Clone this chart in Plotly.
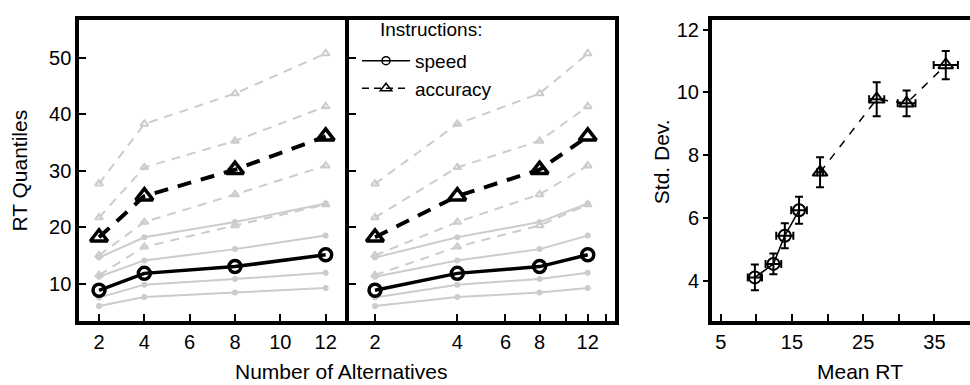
import plotly.graph_objects as go

# ---------------- data ----------------
n_alt = [2, 4, 8, 12]

speed_q10 = [6.0, 7.6, 8.4, 9.2]
speed_q30 = [7.5, 9.8, 10.8, 11.9]
speed_q50 = [8.8, 11.8, 13.0, 15.1]
speed_q70 = [11.2, 14.1, 16.1, 18.5]
speed_q90 = [14.6, 18.2, 20.9, 24.2]

acc_q10 = [11.5, 16.5, 20.3, 24.0]
acc_q30 = [15.0, 20.9, 25.8, 30.9]
acc_q50 = [18.2, 25.5, 30.2, 36.1]
acc_q70 = [21.7, 30.6, 35.3, 41.4]
acc_q90 = [27.7, 38.3, 43.7, 50.8]

speed_mean = [9.8, 12.4, 14.0, 16.0]
speed_sd = [4.1, 4.53, 5.43, 6.24]
speed_mean_err = [1.0, 1.1, 1.2, 1.1]
speed_sd_err = [0.41, 0.33, 0.40, 0.43]

acc_mean = [18.95, 26.9, 31.1, 36.6]
acc_sd = [7.45, 9.78, 9.65, 10.87]
acc_mean_err = [0.4, 1.06, 1.25, 1.7]
acc_sd_err = [0.48, 0.54, 0.41, 0.45]

x_ticks_lin = [2, 4, 6, 8, 10, 12]
x_ticks_log = [2, 4, 6, 8, 10, 12, 14]
x_ticktext_log = ["2", "4", "6", "8", "", "12", ""]
y_ticks_q = [10, 20, 30, 40, 50]
x_ticks_mean = [5, 10, 15, 20, 25, 30, 35, 40]
x_ticktext_mean = ["5", "", "15", "", "25", "", "35", ""]
y_ticks_sd = [4, 6, 8, 10, 12]

GREY = "#cccccc"
FONT = "Liberation Sans, Arial, sans-serif"

fig = go.Figure()

grey_speed = [speed_q10, speed_q30, speed_q70, speed_q90]
grey_acc = [acc_q10, acc_q30, acc_q70, acc_q90]

for xa, ya in [("x", "y"), ("x2", "y2")]:
    for q in grey_acc:
        fig.add_trace(go.Scatter(
            x=n_alt, y=q, xaxis=xa, yaxis=ya, mode="lines+markers",
            line=dict(color=GREY, width=2, dash="9px,7px"),
            marker=dict(symbol="triangle-up-open", size=7, color=GREY, line=dict(width=2, color=GREY)),
            showlegend=False, hoverinfo="skip"))
    for q in grey_speed:
        fig.add_trace(go.Scatter(
            x=n_alt, y=q, xaxis=xa, yaxis=ya, mode="lines+markers",
            line=dict(color=GREY, width=2),
            marker=dict(symbol="circle", size=6, color=GREY),
            showlegend=False, hoverinfo="skip"))
    fig.add_trace(go.Scatter(
        x=n_alt, y=acc_q50, xaxis=xa, yaxis=ya, mode="lines+markers",
        line=dict(color="black", width=4, dash="14px,10px"),
        marker=dict(symbol="triangle-up-open", size=15, color="black", line=dict(width=3.5, color="black")),
        showlegend=False, hoverinfo="skip"))
    fig.add_trace(go.Scatter(
        x=n_alt, y=speed_q50, xaxis=xa, yaxis=ya, mode="lines+markers",
        line=dict(color="black", width=3.5),
        marker=dict(symbol="circle-open", size=12, color="black", line=dict(width=3.5, color="black")),
        showlegend=False, hoverinfo="skip"))

# legend entries
fig.add_trace(go.Scatter(
    x=[None], y=[None], xaxis="x2", yaxis="y2", mode="lines+markers", name="speed",
    line=dict(color="black", width=1.5),
    marker=dict(symbol="circle-open", size=8, color="black", line=dict(width=1.5, color="black"))))
fig.add_trace(go.Scatter(
    x=[None], y=[None], xaxis="x2", yaxis="y2", mode="lines+markers", name="accuracy",
    line=dict(color="black", width=1.5, dash="7px,5px"),
    marker=dict(symbol="triangle-up-open", size=10, color="black", line=dict(width=1.5, color="black"))))

# right panel
fig.add_trace(go.Scatter(
    x=speed_mean, y=speed_sd, xaxis="x3", yaxis="y3", mode="lines+markers",
    line=dict(color="black", width=1.5),
    marker=dict(symbol="circle-open", size=12, color="black", line=dict(width=2, color="black")),
    error_y=dict(type="data", array=speed_sd_err, color="black", thickness=2, width=4),
    error_x=dict(type="data", array=speed_mean_err, color="black", thickness=2, width=4),
    showlegend=False, hoverinfo="skip"))
fig.add_trace(go.Scatter(
    x=acc_mean, y=acc_sd, xaxis="x3", yaxis="y3", mode="lines+markers",
    line=dict(color="black", width=1.5, dash="8px,8px"),
    marker=dict(symbol="triangle-up-open", size=13, color="black", line=dict(width=2, color="black")),
    error_y=dict(type="data", array=acc_sd_err, color="black", thickness=2, width=4),
    error_x=dict(type="data", array=acc_mean_err, color="black", thickness=2, width=4),
    showlegend=False, hoverinfo="skip"))

W, H = 970, 385
ydom = [1 - 320.5 / H, 1 - 18.5 / H]
tickfont = dict(family=FONT, size=20, color="black")

common = dict(showline=True, linewidth=4, linecolor="black", ticks="inside", ticklen=7,
              tickwidth=2, tickcolor="black", tickfont=tickfont, showgrid=False, zeroline=False)

fig.update_layout(
    width=W, height=H, margin=dict(l=0, r=0, t=0, b=0),
    paper_bgcolor="white", plot_bgcolor="white",
    font=dict(family=FONT, color="black"),
    xaxis=dict(domain=[79.3 / W, 344.7 / W], range=[1.13, 12.84], tickvals=x_ticks_lin,
               anchor="y", mirror=True, **common),
    yaxis=dict(domain=ydom, range=[3.38, 56.67], tickvals=y_ticks_q, anchor="x", mirror=True, **common),
    xaxis2=dict(domain=[348.7 / W, 614.7 / W], type="log", range=[0.2048, 1.1778],
                tickvals=x_ticks_log, ticktext=x_ticktext_log, anchor="y2", mirror=True, **common),
    yaxis2=dict(domain=ydom, range=[3.38, 56.67], tickvals=y_ticks_q, anchor="x2", mirror=True,
                showticklabels=False, **common),
    xaxis3=dict(domain=[712 / W, 1.0], range=[3.78, 40.0], tickvals=x_ticks_mean,
                ticktext=x_ticktext_mean, anchor="y3", mirror=True, **common),
    yaxis3=dict(domain=ydom, range=[2.716, 12.292], tickvals=y_ticks_sd, anchor="x3", mirror=False,
                **{**common, "ticks": "outside", "ticklen": 5}),
    legend=dict(x=357 / W, y=1 - 40 / H, xanchor="left", yanchor="top", bgcolor="rgba(0,0,0,0)",
                font=dict(family=FONT, size=19, color="black"), itemwidth=48,
                tracegroupgap=0),
    annotations=[
        dict(text="Instructions:", x=430.5 / W, y=1 - 28 / H, xref="paper", yref="paper",
             showarrow=False, font=dict(family=FONT, size=19), xanchor="center", yanchor="middle"),
        dict(text="RT Quantiles", x=20 / W, y=1 - 169.5 / H, xref="paper", yref="paper",
             textangle=-90, showarrow=False, font=dict(family=FONT, size=21), xanchor="center", yanchor="middle"),
        dict(text="Number of Alternatives", x=341 / W, y=0, xref="paper", yref="paper",
             showarrow=False, font=dict(family=FONT, size=21), xanchor="center", yanchor="bottom"),
        dict(text="Std. Dev.", x=661 / W, y=1 - 161 / H, xref="paper", yref="paper",
             textangle=-90, showarrow=False, font=dict(family=FONT, size=21), xanchor="center", yanchor="middle"),
        dict(text="Mean RT", x=860 / W, y=0, xref="paper", yref="paper",
             showarrow=False, font=dict(family=FONT, size=21), xanchor="center", yanchor="bottom"),
    ],
)

fig.write_html("out.html")
